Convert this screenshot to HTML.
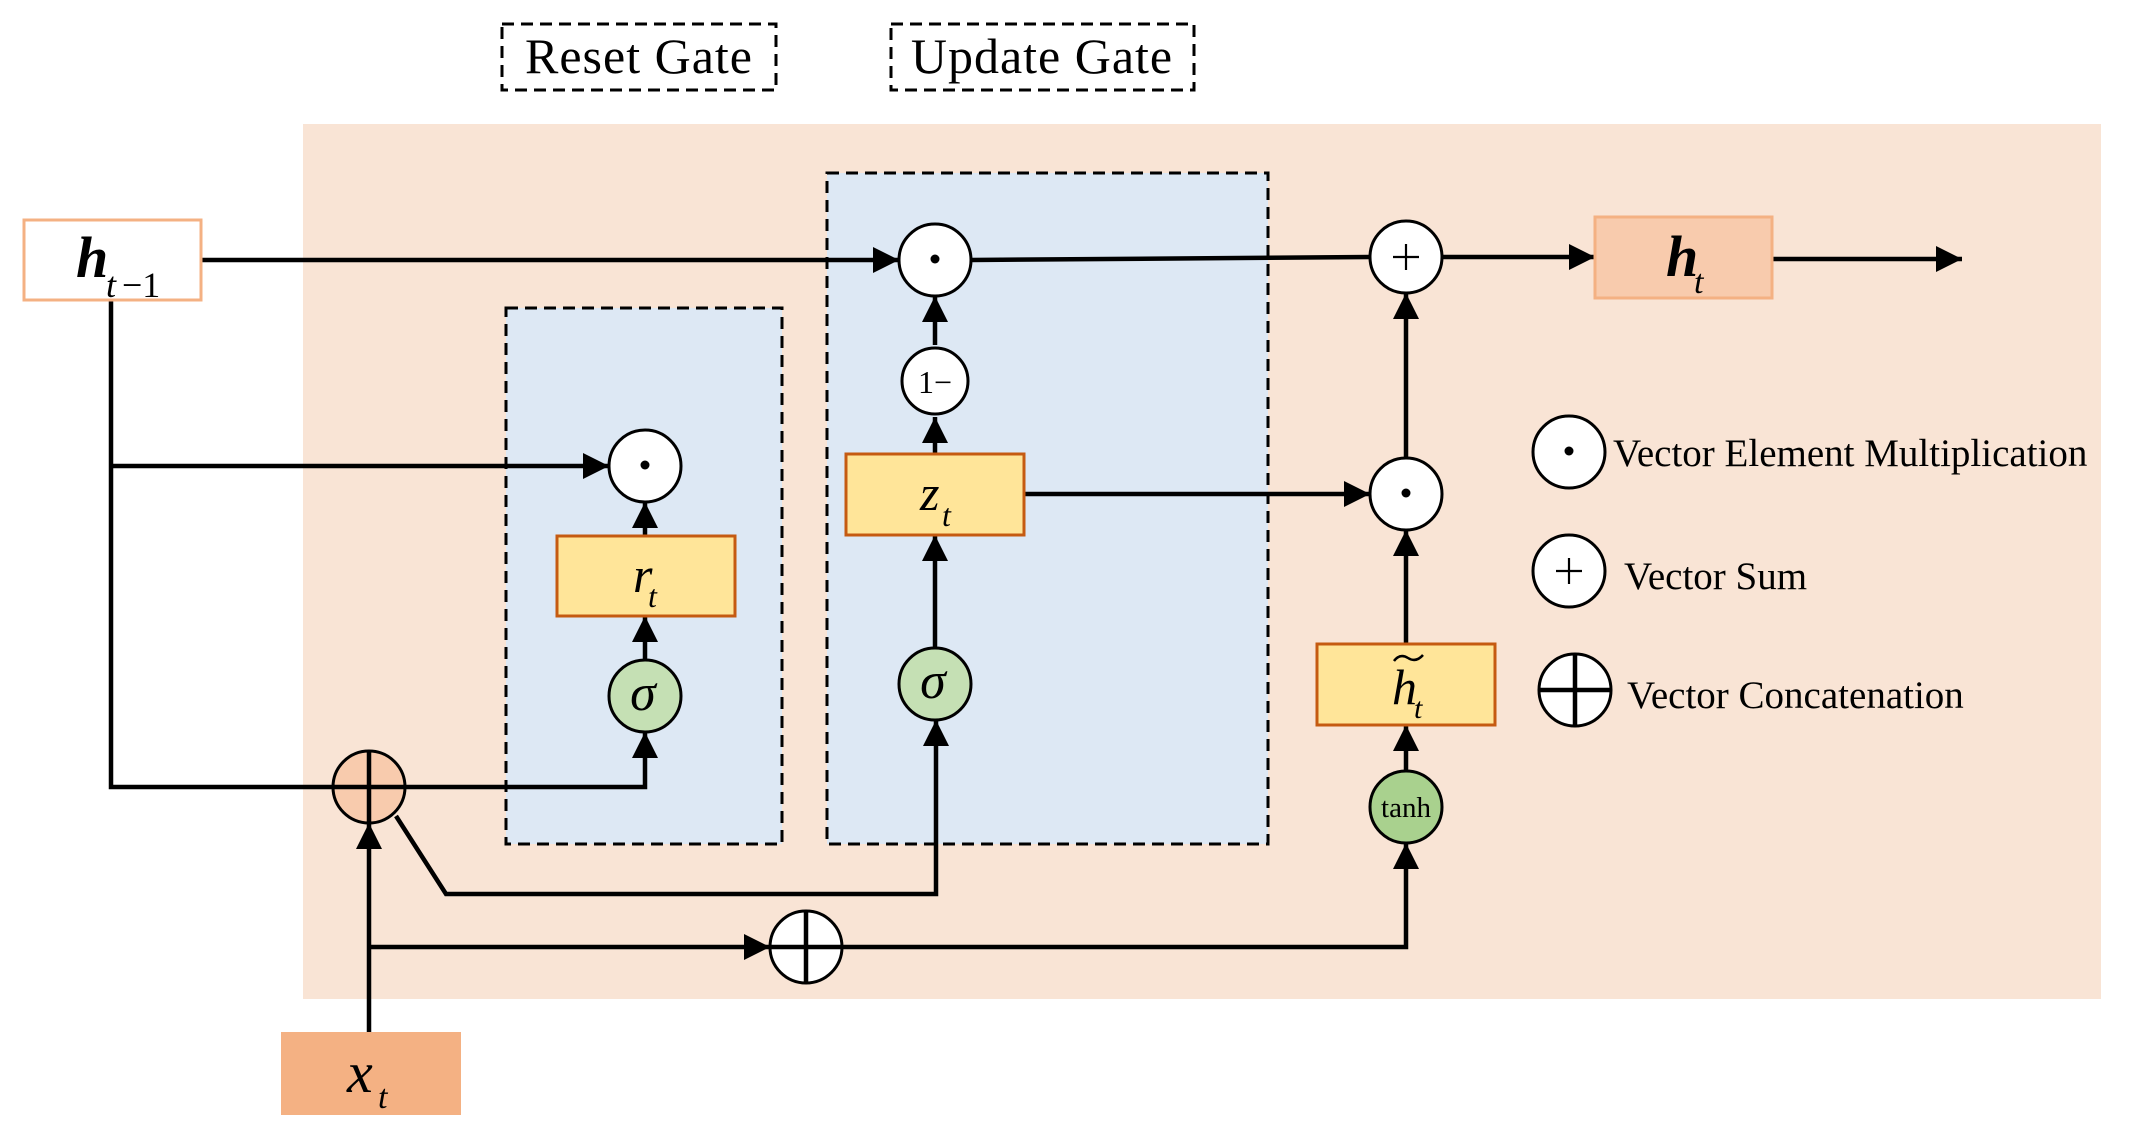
<!DOCTYPE html>
<html><head><meta charset="utf-8"><style>
html,body{margin:0;padding:0;background:#fff}
svg{display:block}
text{font-family:"Liberation Serif",serif}
</style></head><body>
<svg width="2129" height="1133" viewBox="0 0 2129 1133" xmlns="http://www.w3.org/2000/svg">
<defs>
<marker id="a" markerUnits="userSpaceOnUse" markerWidth="26" markerHeight="26" viewBox="0 0 24 24" refX="24" refY="12" orient="auto">
<path d="M0,0 L24,12 L0,24 z" fill="#000"/></marker>
</defs>
<rect x="303" y="124" width="1798" height="875" fill="#f9e4d5"/>
<rect x="502" y="24" width="274" height="66" fill="none" stroke="#000" stroke-width="3" stroke-dasharray="12,7"/>
<text x="639" y="73" font-size="50" text-anchor="middle" letter-spacing="1">Reset Gate</text>
<rect x="891" y="24" width="303" height="66" fill="none" stroke="#000" stroke-width="3" stroke-dasharray="12,7"/>
<text x="1042" y="73" font-size="50" text-anchor="middle" letter-spacing="1">Update Gate</text>
<rect x="506" y="308" width="276" height="536" fill="#dde8f4" stroke="#000" stroke-width="3" stroke-dasharray="12,7"/>
<rect x="827" y="173" width="441" height="671" fill="#dde8f4" stroke="#000" stroke-width="3" stroke-dasharray="12,7"/>
<g stroke="#000" stroke-width="4.5" fill="none">
<line x1="201" y1="260" x2="899" y2="260" marker-end="url(#a)"/>
<polyline points="971,260 1370,257"/>
<line x1="1442" y1="257" x2="1595" y2="257" marker-end="url(#a)"/>
<line x1="1772" y1="259" x2="1962" y2="259" marker-end="url(#a)"/>
<polyline points="111,300 111,787 645,787 645,732" marker-end="url(#a)"/>
<line x1="111" y1="466" x2="609" y2="466" marker-end="url(#a)"/>
<line x1="645" y1="536" x2="645" y2="502" marker-end="url(#a)"/>
<line x1="645" y1="660" x2="645" y2="616" marker-end="url(#a)"/>
<line x1="935" y1="345" x2="935" y2="296" marker-end="url(#a)"/>
<line x1="935" y1="454" x2="935" y2="417" marker-end="url(#a)"/>
<line x1="935" y1="648" x2="935" y2="535" marker-end="url(#a)"/>
<polyline points="396,816 446,894 936,894 936,720" marker-end="url(#a)"/>
<line x1="369" y1="1032" x2="369" y2="823" marker-end="url(#a)"/>
<line x1="369" y1="947" x2="770" y2="947" marker-end="url(#a)"/>
<polyline points="842,947 1406,947 1406,843" marker-end="url(#a)"/>
<line x1="1406" y1="771" x2="1406" y2="725" marker-end="url(#a)"/>
<line x1="1406" y1="644" x2="1406" y2="530" marker-end="url(#a)"/>
<line x1="1406" y1="458" x2="1406" y2="293" marker-end="url(#a)"/>
<line x1="1024" y1="494" x2="1370" y2="494" marker-end="url(#a)"/>
</g>
<rect x="24" y="220" width="177" height="80" fill="#fff" stroke="#f4b183" stroke-width="3"/>
<text x="76" y="277" font-size="58" font-style="italic" font-weight="bold">h</text>
<text x="106" y="297" font-size="36" font-style="italic">t</text>
<text x="122" y="297" font-size="36">−1</text>
<rect x="1595" y="217" width="177" height="81" fill="#f8cbad" stroke="#f4b183" stroke-width="3"/>
<text x="1666" y="276" font-size="58" font-style="italic" font-weight="bold">h</text>
<text x="1694" y="293" font-size="34" font-style="italic">t</text>
<rect x="281" y="1032" width="180" height="83" fill="#f4b183"/>
<text x="347" y="1092" font-size="58" font-style="italic">x</text>
<text x="378" y="1108" font-size="34" font-style="italic">t</text>
<g fill="#ffe599" stroke="#c55a11" stroke-width="3">
<rect x="557" y="536" width="178" height="80"/>
<rect x="846" y="454" width="178" height="81"/>
<rect x="1317" y="644" width="178" height="81"/>
</g>
<text x="633" y="592" font-size="50" font-style="italic">r</text>
<text x="648" y="607" font-size="32" font-style="italic">t</text>
<text x="920" y="510" font-size="50" font-style="italic">z</text>
<text x="942" y="526" font-size="32" font-style="italic">t</text>
<text x="1392" y="704" font-size="50" font-style="italic">h</text>
<text x="1414" y="718" font-size="30" font-style="italic">t</text>
<path d="M1394,661 q6,-8 14,-3 q8,5 15,-3" stroke="#000" stroke-width="2.5" fill="none"/>
<g stroke="#000" stroke-width="3">
<circle cx="935" cy="260" r="36" fill="#fff"/>
<circle cx="935" cy="381" r="33" fill="#fff"/>
<circle cx="645" cy="466" r="36" fill="#fff"/>
<circle cx="645" cy="696" r="36" fill="#c5e0b4"/>
<circle cx="935" cy="684" r="36" fill="#c5e0b4"/>
<circle cx="1406" cy="257" r="36" fill="#fff"/>
<circle cx="1406" cy="494" r="36" fill="#fff"/>
<circle cx="1406" cy="807" r="36" fill="#a9d18e"/>
<circle cx="369" cy="787" r="36" fill="#f8cbad"/>
<circle cx="806" cy="947" r="36" fill="#fff"/>
<circle cx="1569" cy="452" r="36" fill="#fff"/>
<circle cx="1569" cy="571" r="36" fill="#fff"/>
<circle cx="1575" cy="690" r="36" fill="#fff"/>
</g>
<g stroke="#000" stroke-width="4.5">
<line x1="369" y1="751" x2="369" y2="823"/><line x1="333" y1="787" x2="405" y2="787"/>
<line x1="806" y1="911" x2="806" y2="983"/><line x1="770" y1="947" x2="842" y2="947"/>
<line x1="1575" y1="654" x2="1575" y2="726"/><line x1="1539" y1="690" x2="1611" y2="690"/>
</g>
<g fill="#000">
<circle cx="935" cy="259" r="4.5"/><circle cx="645" cy="465" r="4.5"/><circle cx="1406" cy="493" r="4.5"/><circle cx="1569" cy="451" r="4.5"/>
</g>
<g stroke="#000" stroke-width="2.2">
<line x1="1406" y1="244" x2="1406" y2="270"/><line x1="1393" y1="257" x2="1419" y2="257"/>
<line x1="1569" y1="558" x2="1569" y2="584"/><line x1="1556" y1="571" x2="1582" y2="571"/>
</g>
<text x="935" y="393" font-size="32" text-anchor="middle">1−</text>
<text x="643" y="710" font-size="52" font-style="italic" text-anchor="middle">σ</text>
<text x="933" y="698" font-size="52" font-style="italic" text-anchor="middle">σ</text>
<text x="1406" y="817" font-size="29" text-anchor="middle">tanh</text>
<text x="1613" y="466" font-size="39">Vector Element Multiplication</text>
<text x="1624" y="589" font-size="39">Vector Sum</text>
<text x="1627" y="708" font-size="39">Vector Concatenation</text>
</svg>
</body></html>
